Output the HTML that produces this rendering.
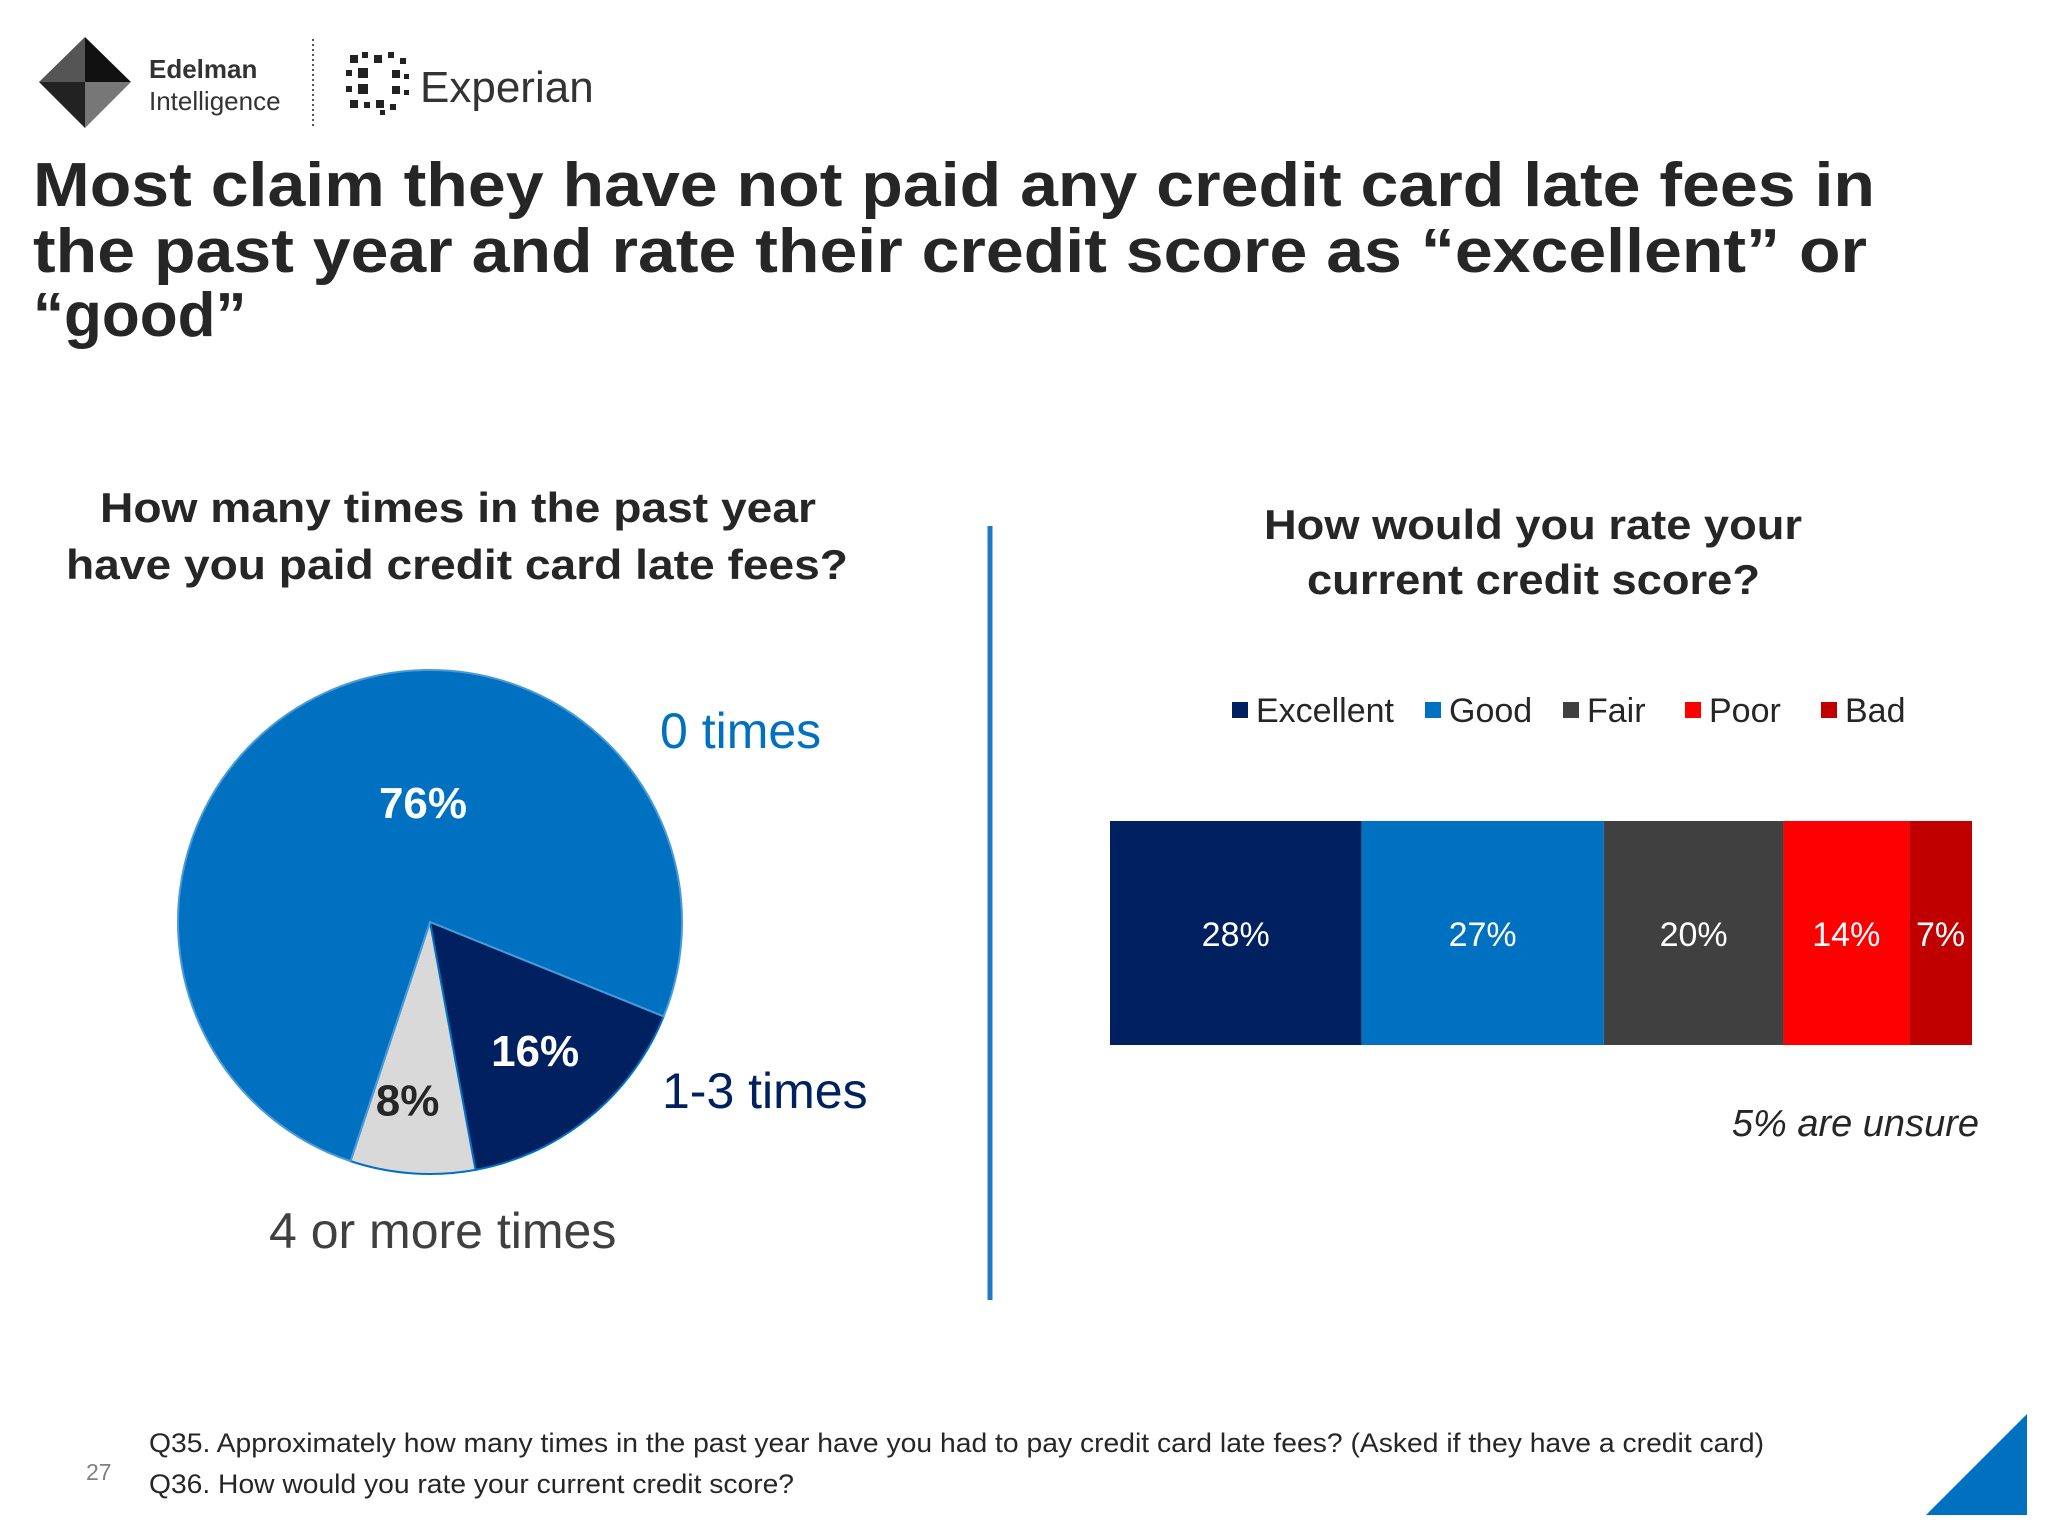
<!DOCTYPE html>
<html><head><meta charset="utf-8"><style>
html,body{margin:0;padding:0;background:#fff;}
svg{display:block;font-family:"Liberation Sans",Arial,sans-serif;}
</style></head><body>
<svg id="chart" width="2048" height="1536" viewBox="0 0 2048 1536" xmlns="http://www.w3.org/2000/svg">
<rect width="2048" height="1536" fill="#fff"/>
<g>
<polygon points="85,37 131,82 85,82" fill="#111"/>
<polygon points="39,82 85,82 85,128" fill="#222"/>
<polygon points="85,82 131,82 85,128" fill="#777"/>
<polygon points="85,37 85,82 39,82" fill="#555"/>
<text x="149" y="78" font-size="26" font-weight="bold" fill="#333">Edelman</text>
<text x="149" y="110" font-size="26" fill="#333">Intelligence</text>
</g>
<line x1="313" y1="39" x2="313" y2="127" stroke="#555" stroke-width="2" stroke-dasharray="2,3"/>
<g>
<g fill="#222">
<rect x="350" y="55" width="8" height="8"/><rect x="362" y="52" width="6" height="6"/><rect x="374" y="55" width="8" height="8"/><rect x="388" y="52" width="6" height="6"/><rect x="400" y="58" width="6" height="6"/>
<rect x="346" y="70" width="6" height="6"/><rect x="358" y="68" width="10" height="10"/><rect x="392" y="70" width="8" height="8"/><rect x="404" y="74" width="5" height="5"/>
<rect x="346" y="86" width="6" height="6"/><rect x="358" y="84" width="10" height="10"/><rect x="392" y="86" width="8" height="8"/><rect x="404" y="90" width="5" height="5"/>
<rect x="350" y="100" width="8" height="8"/><rect x="364" y="102" width="6" height="6"/><rect x="376" y="100" width="8" height="8"/><rect x="390" y="104" width="6" height="6"/><rect x="380" y="110" width="5" height="5"/>
</g>
<text x="420" y="102" font-size="44" fill="#333">Experian</text>
</g>
<g font-size="62" font-weight="bold" fill="#262626">
<text x="33" y="206" textLength="1842" lengthAdjust="spacingAndGlyphs">Most claim they have not paid any credit card late fees in</text>
<text x="33" y="272" textLength="1834" lengthAdjust="spacingAndGlyphs">the past year and rate their credit score as “excellent” or</text>
<text x="33" y="336">“good”</text>
</g>
<g font-size="42" font-weight="bold" fill="#262626">
<text x="100" y="522" textLength="716" lengthAdjust="spacingAndGlyphs">How many times in  the past year</text>
<text x="66" y="579" textLength="782" lengthAdjust="spacingAndGlyphs">have you  paid credit card late fees?</text>
</g>
<g id="pie"></g>
<g font-size="50">
<text x="660" y="748" fill="#0070C0">0 times</text>
<text x="662" y="1108" fill="#002060">1-3 times</text>
<text x="269" y="1248" fill="#404040">4 or more times</text>
</g>
<line x1="990" y1="526" x2="990" y2="1300" stroke="#1f78c8" stroke-width="5"/>
<g font-size="42" font-weight="bold" fill="#262626">
<text x="1264" y="539" textLength="538" lengthAdjust="spacingAndGlyphs">How would you rate your</text>
<text x="1307" y="594" textLength="453" lengthAdjust="spacingAndGlyphs">current credit score?</text>
</g>
<g id="legend"></g>
<g id="bar"></g>
<text x="1979" y="1136" font-size="38" font-style="italic" fill="#262626" text-anchor="end">5% are unsure</text>
<g font-size="27" fill="#262626">
<text x="149" y="1452" textLength="1615" lengthAdjust="spacingAndGlyphs">Q35. Approximately how many times in the past year have you had to pay credit card late fees? (Asked if they have a credit card)</text>
<text x="149" y="1493" textLength="645" lengthAdjust="spacingAndGlyphs">Q36. How would you rate your current credit score?</text>
</g>
<text x="86" y="1480" font-size="23" fill="#808080">27</text>
<polygon points="1926,1515 2027,1414 2027,1515" fill="#0070C0"/>
</svg>
<script>
const pieCategories = ["1-3 times", "4 or more times", "0 times"];
const pieValues = [16, 8, 76];
const pieLabels = ["16%", "8%", "76%"];
const barCategories = ["Excellent", "Good", "Fair", "Poor", "Bad"];
const barValues = [28, 27, 20, 14, 7];
const barLabels = ["28%", "27%", "20%", "14%", "7%"];

const NS = "http://www.w3.org/2000/svg";
function mk(tag, attrs, parent) {
  const e = document.createElementNS(NS, tag);
  for (const k in attrs) e.setAttribute(k, attrs[k]);
  parent.appendChild(e);
  return e;
}
// Pie
(function(){
  const g = document.getElementById('pie');
  const cx = 430, cy = 922, r = 252;
  const colors = ["#002060", "#D9D9D9", "#0070C0"];
  const labelColors = ["#fff", "#262626", "#fff"];
  const labelPos = [0.66, 0.71, 0.5];
  const total = pieValues.reduce((a, b) => a + b, 0);
  let a0 = 112;
  const pt = (deg, rr) => { const t = deg * Math.PI / 180; return [cx + rr * Math.sin(t), cy - rr * Math.cos(t)]; };
  pieValues.forEach((v, i) => {
    const sweep = v / total * 360, a1 = a0 + sweep;
    const p0 = pt(a0, r), p1 = pt(a1, r);
    const p = mk('path', {d: `M${cx},${cy} L${p0[0]},${p0[1]} A${r},${r} 0 ${sweep > 180 ? 1 : 0} 1 ${p1[0]},${p1[1]} Z`, fill: colors[i], stroke: i === 2 ? "#4a9ad8" : "#0070C0", 'stroke-width': 2}, g);
    
    
    const mid = a0 + sweep / 2;
    let lp = pt(mid, r * labelPos[i]);
    if (i === 1) lp = [lp[0] - 10, lp[1]];
    if (i === 2) lp = [cx - 7, cy - 119];
    const t = mk('text', {x: lp[0], y: lp[1] + 15, 'font-size': 44, 'font-weight': 'bold', fill: labelColors[i], 'text-anchor': 'middle'}, g);
    t.textContent = pieLabels[i];
    
    
    a0 = a1;
  });
})();
// Stacked bar + legend
(function(){
  const g = document.getElementById('bar');
  const lg = document.getElementById('legend');
  const colors = ["#002060", "#0070C0", "#404040", "#FF0000", "#C00000"];
  const x0 = 1110, x1 = 1972, y0 = 821, y1 = 1045;
  const total = barValues.reduce((a, b) => a + b, 0);
  const xs = v => (x1 - x0) * v / total;
  let x = x0;
  barValues.forEach((v, i) => {
    const w = xs(v);
    const r = mk('rect', {x: x, y: y0, width: w, height: y1 - y0, fill: colors[i]}, g);
    
    
    const t = mk('text', {x: x + w / 2, y: 946, 'font-size': 34, fill: '#fff', 'text-anchor': 'middle'}, g);
    t.textContent = barLabels[i];
    
    
    x += w;
  });
  const legX = [1232, 1425, 1563, 1685, 1821];
  barCategories.forEach((c, i) => {
    const s = mk('rect', {x: legX[i], y: 702, width: 16, height: 16, fill: colors[i]}, lg);
    
    
    const t = mk('text', {x: legX[i] + 24, y: 722, 'font-size': 34, fill: '#262626'}, lg);
    t.textContent = c;
    
    
  });
})();
</script>
</body></html>
